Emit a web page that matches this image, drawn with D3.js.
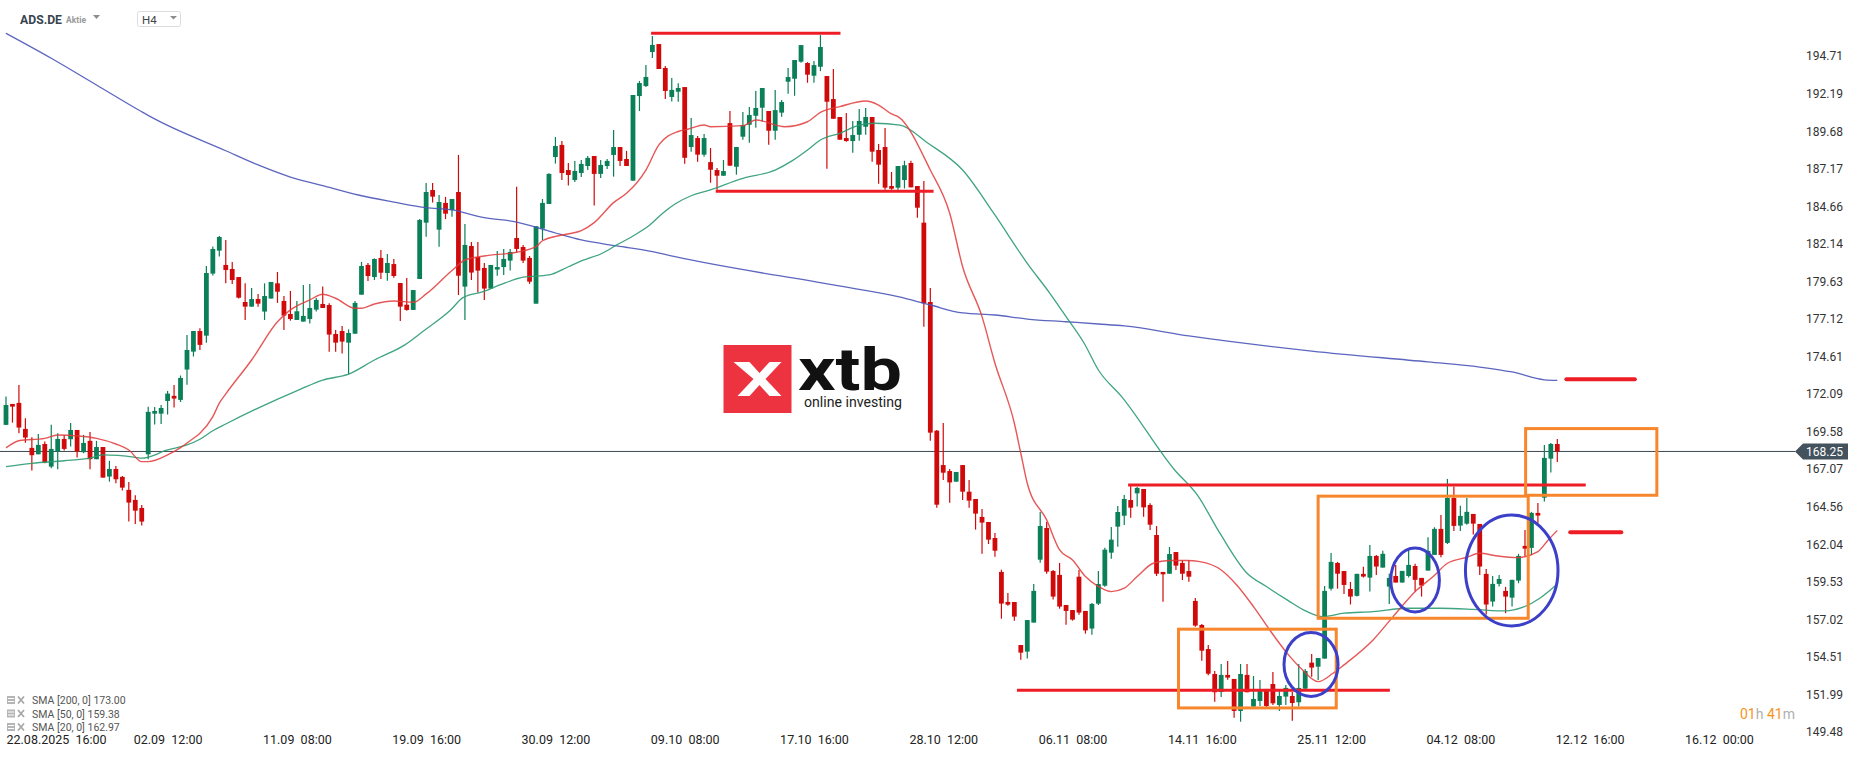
<!DOCTYPE html>
<html lang="de">
<head>
  <meta charset="utf-8" />
  <title>ADS.DE H4</title>
  <script src="https://cdnjs.cloudflare.com/ajax/libs/d3/7.8.5/d3.min.js"></script>
  <style>
    body { margin: 0; background: #fff; }
    svg { display: block; font-family: Roboto, "Noto Sans", Arial, sans-serif; }
  </style>
</head>
<body>
<svg id="chart" width="1866" height="761"></svg>
<script>
  // H4 candles, oldest first
  const opens = [
    170.03,171.43,171.50,169.76,168.49,168.06,168.75,167.24,168.24,169.09,
    169.07,169.69,168.20,168.96,167.73,168.55,166.57,167.08,166.55,165.68,
    165.01,164.47,168.06,170.78,170.78,171.63,171.97,171.70,173.73,174.93,
    176.31,176.00,180.15,181.69,180.73,180.46,179.92,178.25,177.94,178.45,
    177.61,178.48,179.50,178.32,177.45,177.05,176.94,177.11,177.74,178.12,
    178.05,176.11,176.31,175.53,176.13,178.74,180.73,179.92,181.20,180.19,
    180.79,179.52,178.07,177.72,179.79,183.56,185.74,183.09,184.88,184.41,
    185.61,179.28,182.00,181.26,180.53,179.15,180.42,180.59,181.02,182.53,
    181.93,181.20,178.14,183.16,184.81,187.95,188.76,187.08,186.41,186.88,
    187.35,188.02,186.82,187.35,188.09,188.62,187.82,186.37,192.03,192.70,
    194.98,195.51,193.91,191.97,192.32,192.63,188.62,189.22,188.11,187.61,
    187.08,186.70,190.22,187.30,189.31,190.11,190.71,191.25,191.03,189.71,
    190.92,192.99,193.19,194.33,194.24,193.39,193.99,193.37,191.83,190.63,
    189.22,189.02,189.44,189.98,190.63,188.42,188.62,186.01,185.90,186.41,
    187.55,186.01,183.56,178.25,169.64,167.34,166.94,166.23,167.34,165.56,
    165.07,163.87,163.53,162.46,160.19,158.18,158.18,155.30,154.86,156.80,
    161.01,163.13,160.25,159.99,157.98,157.64,159.87,157.58,156.40,158.07,
    159.27,161.48,163.22,163.95,165.00,165.45,165.74,164.67,162.66,160.19,
    160.07,161.52,160.79,160.25,158.25,156.64,155.03,153.36,152.16,153.30,
    153.03,150.89,153.30,151.18,151.56,152.36,152.69,151.29,151.85,151.89,
    151.47,152.38,154.12,153.85,154.39,159.07,160.79,160.25,159.05,158.59,
    160.06,159.81,161.26,160.48,159.21,159.92,159.48,159.92,160.59,159.79,
    160.28,161.33,163.07,162.13,165.14,163.29,163.42,164.07,163.40,160.06,
    158.21,159.39,158.92,158.47,159.61,161.93,161.80,164.14,165.16,167.77,168.75
  ];
  const highs = [
    171.92,171.43,172.70,170.47,169.20,169.42,168.91,170.03,169.47,169.36,
    170.16,169.69,169.36,169.56,168.96,168.55,167.62,167.28,166.61,166.21,
    165.32,164.67,171.25,171.23,171.36,172.30,172.70,173.33,176.05,176.31,
    176.49,180.66,181.96,182.67,182.40,180.93,179.92,179.50,179.19,178.79,
    179.50,179.59,180.26,178.65,178.99,178.32,179.39,179.46,178.52,179.28,
    178.16,176.38,176.65,176.42,178.32,180.93,180.86,181.17,181.73,181.46,
    181.13,179.52,179.86,179.05,183.80,186.21,186.21,185.41,185.28,185.14,
    188.09,183.47,182.27,182.27,180.86,180.73,181.67,181.80,181.80,185.97,
    182.07,181.33,183.32,185.14,186.86,189.29,189.02,187.55,187.69,187.75,
    188.02,188.02,187.75,187.82,189.76,188.62,188.36,192.10,193.04,194.11,
    196.05,195.51,194.04,193.24,192.88,192.63,190.56,189.35,189.49,188.55,
    187.21,187.75,191.03,188.62,190.96,191.29,192.36,192.57,191.03,192.43,
    191.76,193.90,194.44,195.44,194.30,194.37,196.11,193.37,193.84,190.63,
    190.89,190.36,191.16,191.23,190.63,188.82,189.89,186.95,187.35,187.70,
    187.70,186.01,186.34,179.19,169.69,170.15,167.08,166.88,167.34,166.34,
    165.07,164.40,163.53,162.80,160.34,158.78,158.18,155.30,156.97,159.38,
    164.20,163.53,160.32,160.79,157.98,157.64,160.32,157.58,158.11,160.25,
    161.81,163.20,164.60,165.34,165.94,165.87,165.74,164.78,163.26,160.19,
    161.86,161.52,160.99,160.99,158.45,156.71,155.30,153.56,154.03,154.23,
    153.03,154.03,154.03,153.23,152.96,152.36,153.50,152.29,152.63,152.16,
    154.03,153.70,154.70,154.43,159.25,161.46,160.86,160.25,159.52,160.06,
    160.53,162.00,161.33,161.60,160.06,160.66,160.26,161.66,160.73,159.79,
    162.51,163.18,164.00,166.41,165.90,164.61,165.14,164.07,163.40,160.39,
    159.92,159.99,159.19,159.66,161.40,163.00,164.21,164.81,168.69,168.82,169.09
  ];
  const lows = [
    170.03,170.18,169.47,168.84,166.97,168.06,167.46,167.13,167.06,168.31,
    168.58,167.84,168.13,167.06,167.73,166.50,166.23,166.12,165.63,163.56,
    163.40,163.29,167.73,170.05,170.09,170.72,171.19,171.56,172.72,174.60,
    175.04,175.53,180.02,181.29,179.50,179.46,178.48,177.05,177.94,177.94,
    177.05,178.48,178.19,176.38,177.00,177.05,176.94,176.82,177.61,177.85,
    174.93,174.93,174.80,173.41,176.13,178.74,179.66,179.72,179.79,179.68,
    179.88,176.98,177.67,177.72,179.79,182.62,184.90,181.95,183.80,183.96,
    178.72,177.05,179.72,178.88,178.39,179.15,180.01,180.06,180.35,181.55,
    180.86,179.46,178.14,182.40,184.81,187.51,186.41,186.04,186.28,186.62,
    187.08,184.70,186.55,187.15,186.64,187.35,187.35,186.37,191.03,192.64,
    194.58,193.84,191.83,191.66,191.65,187.50,188.31,187.64,187.97,186.23,
    185.76,186.70,187.37,186.77,189.11,188.91,189.91,190.31,188.77,189.11,
    190.65,192.19,192.05,194.26,192.92,192.92,193.70,187.17,190.51,189.11,
    188.97,188.24,189.04,189.44,187.64,186.17,185.76,185.76,185.76,185.85,
    185.92,183.89,176.60,168.97,164.49,166.34,164.82,166.23,165.00,164.49,
    163.02,161.41,162.06,161.21,157.06,157.93,156.93,154.32,154.39,156.80,
    160.81,160.07,158.34,157.73,156.66,156.93,157.33,156.06,155.99,157.98,
    159.20,161.08,161.88,163.33,163.82,164.56,163.89,163.00,159.92,158.20,
    160.07,160.32,159.65,159.54,156.53,154.25,153.27,151.51,151.82,152.98,
    150.44,150.17,152.14,151.18,151.22,151.15,151.29,150.89,151.29,150.24,
    151.18,152.29,153.18,152.96,154.39,158.94,159.07,158.71,158.01,158.54,
    159.81,158.88,159.99,160.48,158.05,159.48,159.48,159.81,158.88,158.54,
    160.28,161.33,161.17,162.06,162.93,162.93,163.34,162.69,159.99,157.34,
    157.87,159.21,157.43,157.87,159.43,161.26,161.33,163.45,164.90,166.84,167.55
  ];
  const closes = [
    171.36,171.25,169.85,169.18,168.00,168.69,167.51,168.42,169.09,168.42,
    169.69,168.24,168.82,167.73,168.55,166.50,167.08,166.39,165.83,164.83,
    164.29,163.56,170.90,170.96,171.16,172.12,171.79,173.17,175.04,176.31,
    175.38,180.19,181.80,182.60,180.39,179.72,178.54,177.94,178.45,178.14,
    178.65,179.59,178.94,177.34,177.11,177.63,177.32,177.85,178.39,177.85,
    176.07,175.53,175.60,176.18,178.19,180.66,179.99,181.13,180.21,180.86,
    179.99,177.94,177.72,179.05,183.74,185.61,185.30,184.94,184.16,185.14,
    180.01,182.07,180.22,180.35,179.15,180.73,180.59,181.13,181.60,181.80,
    181.02,179.61,183.32,184.88,186.82,188.69,186.88,186.75,187.02,187.49,
    187.89,186.82,187.42,187.69,188.62,187.69,187.35,192.10,192.90,193.31,
    195.45,193.84,192.37,192.44,192.57,187.90,189.42,188.11,189.22,187.10,
    186.70,187.01,187.37,188.62,190.09,190.76,191.23,192.57,189.71,191.09,
    191.63,193.30,194.44,195.44,193.46,194.10,195.31,191.65,190.51,189.11,
    189.02,189.42,190.36,190.63,188.31,187.44,185.90,185.83,187.35,187.40,
    185.92,184.56,178.16,169.51,164.69,166.83,166.18,166.88,165.56,164.96,
    164.09,163.49,162.35,161.61,158.07,158.00,157.20,154.79,156.97,158.92,
    163.26,160.21,158.54,157.87,157.58,157.00,157.47,156.28,158.05,159.38,
    161.68,162.35,164.20,165.07,164.49,165.81,164.51,163.35,160.07,160.03,
    161.39,160.61,160.07,159.87,156.60,154.92,153.38,152.14,153.30,153.12,
    150.89,153.36,152.14,151.69,152.23,151.22,151.40,151.89,152.43,151.42,
    152.43,153.56,153.79,154.43,158.92,160.86,160.07,159.32,158.54,160.06,
    159.88,161.26,160.55,161.40,159.79,159.48,160.26,160.66,159.66,159.28,
    161.60,163.07,161.33,165.14,163.27,163.94,164.21,163.42,160.55,158.01,
    159.39,159.72,158.54,159.66,161.26,161.75,164.14,163.96,167.82,168.75,168.25
  ];

  // moving averages: [candle index, value]
  const sma200 = [
    [0,196.23],[7,194.56],[14,192.77],[21,190.98],[23,190.50],[34,188.37],[39,187.42],
    [44,186.61],[49,186.03],[54.5,185.41],[60,184.94],[65,184.56],[69,184.41],[74,183.89],
    [79,183.60],[84,183.00],[89,182.40],[94.5,182.00],[100,181.62],[103.5,181.28],
    [128,179.39],[138,178.61],[143,178.05],[148,177.52],[153,177.38],[158,177.11],
    [164,176.93],[169,176.78],[173,176.65],[183,175.98],[202,174.97],[220,174.24],
    [228,173.90],[233,173.57],[238,173.04],[240,173.00]
  ];
  const sma50 = [
    [0,167.23],[4,167.46],[9,167.63],[13,167.80],[15,168.02],[20,167.86],[21,167.80],
    [25,168.35],[28,168.69],[30,169.07],[32,169.64],[34,170.09],[45.5,172.41],[49,173.03],
    [53,173.42],[57,174.37],[61.7,175.38],[64.8,176.38],[68.7,177.68],[70.7,178.54],
    [73.8,178.94],[76.4,179.39],[80,179.91],[84,180.06],[87,180.61],[89,181.00],
    [92,181.46],[94.5,182.07],[97,182.67],[99.6,183.40],[101.6,184.19],[103.5,184.81],
    [106,185.36],[108.6,185.70],[114,186.53],[119,187.08],[121.6,187.69],[124,188.42],
    [126,189.09],[129,189.54],[132,190.09],[134.4,190.21],[138.3,190.09],[142.6,188.89],
    [148,187.08],[152.8,184.19],[158,180.84],[161.5,178.83],[164,177.27],[166.8,175.49],
    [169,173.70],[172.6,171.92],[180.8,167.01],[184.3,165.34],[187.8,162.78],[192,160.10],
    [195,159.21],[198.2,158.32],[201.3,157.53],[203.7,157.20],[207,157.43],[211.5,157.53],
    [216.7,157.76],[221.8,157.76],[227,157.69],[232,157.58],[234.7,157.83],[237.3,158.43],
    [240,159.38]
  ];
  const sma20 = [
    [0,168.49],[2,168.97],[6,169.13],[8,169.35],[11,169.29],[14,169.13],[17,168.75],
    [19,168.35],[21,167.57],[22,167.57],[25,168.02],[27,168.51],[29,169.13],[30,169.47],
    [32,170.58],[33,171.48],[34,172.10],[38,174.37],[42,176.93],[44,177.72],[47,178.39],
    [49,178.77],[51,178.50],[54,177.83],[55,177.83],[57,178.12],[60,178.32],[63,178.23],
    [65,178.79],[69,180.36],[71,181.06],[74,181.33],[79,181.58],[82,181.95],[83,182.35],
    [86,182.73],[89,183.02],[91,183.56],[94,184.90],[96,185.52],[99,187.08],[101,188.76],
    [104,189.66],[105.5,189.81],[108,190.09],[109,189.98],[114,190.05],[116,190.43],
    [120.5,189.98],[124,190.31],[126,190.94],[129,191.32],[133,191.70],[135,191.43],
    [137,190.83],[138,190.65],[143,187.08],[146,184.19],[148,180.61],[151,177.27],
    [153,174.15],[156,170.14],[157,168.13],[158,166.12],[161,163.67],[163,161.66],
    [165,160.99],[167,159.88],[169,159.21],[171,158.87],[173,159.10],[175,159.88],
    [177.5,160.77],[180,160.95],[182.7,160.95],[184.7,160.88],[188,160.32],[190.4,159.32],
    [193,157.87],[195.5,156.31],[198,154.86],[200.6,153.63],[203,152.85],[205.3,153.41],
    [207,153.97],[211.5,155.64],[214.6,157.20],[218.3,158.99],[220.8,159.88],[223,160.77],
    [226,161.17],[228,161.44],[230.7,161.26],[233.8,161.15],[237,161.55],[238.5,162.28],
    [240,162.97]
  ];

  const lastPrice = 168.25;
  const yTicks = [194.71,192.19,189.68,187.17,184.66,182.14,179.63,177.12,174.61,172.09,
                  169.58,167.07,164.56,162.04,159.53,157.02,154.51,151.99,149.48];
  const xTickIdx = [5,25,45,65,85,105,125,145,165,185,205,225,245,265];
  const xTickLabels = ["22.08.2025  16:00","02.09  12:00","11.09  08:00","19.09  16:00",
    "30.09  12:00","09.10  08:00","17.10  16:00","28.10  12:00","06.11  08:00",
    "14.11  16:00","25.11  12:00","04.12  08:00","12.12  16:00","16.12  00:00"];
  const legendLines = ["SMA [200, 0] 173.00","SMA [50, 0] 159.38","SMA [20, 0] 162.97"];

  // drawn annotations: [from index, to index, price]
  const levels = [[99.8,129.1,196.23],[109.8,143.5,185.66],[173.6,244.4,166.01],[156.4,214.1,152.28]];
  const targets = [[241.4,252,173.08],[242,249.9,162.85]];
  // [from index, to index, top price, bottom price]
  const boxes = [[181.4,205.8,156.36,151.09],[203,235.5,165.26,157.09],[235.1,255.4,169.78,165.32]];
  // [centre index, centre price, radius in candles, radius in price]
  const rings = [[201.9,154.00,4.18,2.14],[218,159.65,3.76,2.14],[232.95,160.29,7.16,3.71]];

  const candles = opens.map((o, i) => ({ i: i, o: o, h: highs[i], l: lows[i], c: closes[i] }));

  const svg = d3.select("#chart");
  svg.append("rect").attr("width", 1866).attr("height", 761).attr("fill", "#fff");

  const x = d3.scaleLinear().domain([0, 240]).range([6, 1557.3]);
  const y = d3.scaleLinear().domain([149.48, 194.71]).range([732, 56]);
  const step = x(1) - x(0);
  const bw = step * 0.74;

  // header
  svg.append("text").attr("x", 20).attr("y", 24).attr("font-size", 13).attr("font-weight", 700)
    .attr("fill", "#37444e").attr("textLength", 42).attr("lengthAdjust", "spacingAndGlyphs").text("ADS.DE");
  svg.append("text").attr("x", 66).attr("y", 23).attr("font-size", 8.5).attr("font-weight", 700)
    .attr("fill", "#9a9a9a").text("Aktie");
  svg.append("path").attr("d", "M93,15 L100,15 L96.5,19 Z").attr("fill", "#8c8c8c");
  svg.append("rect").attr("x", 137.5).attr("y", 11.5).attr("width", 43).attr("height", 15)
    .attr("rx", 2).attr("fill", "#fff").attr("stroke", "#dcdcdc");
  svg.append("text").attr("x", 142).attr("y", 23.5).attr("font-size", 11.5).attr("fill", "#444").text("H4");
  svg.append("path").attr("d", "M170,16 L177,16 L173.5,19.5 Z").attr("fill", "#8c8c8c");

  // last price line
  svg.append("line").attr("x1", 0).attr("x2", 1795).attr("y1", y(lastPrice)).attr("y2", y(lastPrice))
    .attr("stroke", "#3b4853").attr("stroke-width", 1);

  // candles
  const gc = svg.append("g");
  gc.selectAll("line.wick").data(candles).join("line").attr("class", "wick")
    .attr("x1", d => x(d.i)).attr("x2", d => x(d.i))
    .attr("y1", d => y(d.h)).attr("y2", d => y(d.l))
    .attr("stroke", d => d.c >= d.o ? "#0a7f58" : "#d00a0a").attr("stroke-width", 1.2);
  gc.selectAll("rect.body").data(candles).join("rect").attr("class", "body")
    .attr("x", d => x(d.i) - bw / 2).attr("width", bw)
    .attr("y", d => y(Math.max(d.o, d.c)))
    .attr("height", d => Math.max(1.2, Math.abs(y(d.o) - y(d.c))))
    .attr("fill", d => d.c >= d.o ? "#0a7f58" : "#d00a0a");

  // moving averages
  const line = d3.line().x(d => x(d[0])).y(d => y(d[1])).curve(d3.curveMonotoneX);
  svg.append("path").datum(sma200).attr("d", line).attr("fill", "none")
    .attr("stroke", "#4a55b8").attr("stroke-width", 1.3).attr("opacity", 0.9);
  svg.append("path").datum(sma50).attr("d", line).attr("fill", "none")
    .attr("stroke", "#2a9a72").attr("stroke-width", 1.3).attr("opacity", 0.9);
  svg.append("path").datum(sma20).attr("d", line).attr("fill", "none")
    .attr("stroke", "#e23a3a").attr("stroke-width", 1.4).attr("opacity", 0.85);

  // annotations
  svg.selectAll("line.level").data(levels).join("line").attr("class", "level")
    .attr("x1", d => x(d[0])).attr("x2", d => x(d[1]))
    .attr("y1", d => y(d[2])).attr("y2", d => y(d[2]))
    .attr("stroke", "#ee1c25").attr("stroke-width", 3);
  svg.selectAll("line.target").data(targets).join("line").attr("class", "target")
    .attr("x1", d => x(d[0])).attr("x2", d => x(d[1]))
    .attr("y1", d => y(d[2])).attr("y2", d => y(d[2]))
    .attr("stroke", "#ee1c25").attr("stroke-width", 4).attr("stroke-linecap", "round");
  svg.selectAll("rect.box").data(boxes).join("rect").attr("class", "box")
    .attr("x", d => x(d[0])).attr("width", d => x(d[1]) - x(d[0]))
    .attr("y", d => y(d[2])).attr("height", d => y(d[3]) - y(d[2]))
    .attr("fill", "none").attr("stroke", "#f7862c").attr("stroke-width", 3);
  svg.selectAll("ellipse.ring").data(rings).join("ellipse").attr("class", "ring")
    .attr("cx", d => x(d[0])).attr("cy", d => y(d[1]))
    .attr("rx", d => x(d[0] + d[2]) - x(d[0])).attr("ry", d => y(d[1] - d[3]) - y(d[1]))
    .attr("fill", "none").attr("stroke", "#3c40c8").attr("stroke-width", 3);

  // price axis
  const ya = svg.append("g").attr("transform", "translate(1800,0)")
    .call(d3.axisRight(y).tickValues(yTicks).tickSize(0).tickPadding(6).tickFormat(d3.format(".2f")));
  ya.select(".domain").remove();
  ya.selectAll("text").attr("font-size", 12).attr("fill", "#333").attr("font-family", "Roboto, Arial, sans-serif");

  // last price tag
  const py = y(lastPrice);
  svg.append("path")
    .attr("d", `M1795,${py} L1803,${py - 8} L1848,${py - 8} L1848,${py + 8} L1803,${py + 8} Z`)
    .attr("fill", "#44525d");
  svg.append("text").attr("x", 1806).attr("y", py + 4.5).attr("font-size", 12).attr("fill", "#fff")
    .text(lastPrice.toFixed(2));

  // time axis
  const xa = svg.append("g").attr("transform", "translate(0,732)")
    .call(d3.axisBottom(x).tickValues(xTickIdx).tickSize(0).tickPadding(3)
      .tickFormat((d, i) => xTickLabels[i]));
  xa.select(".domain").remove();
  xa.selectAll("text").attr("font-size", 12.5).attr("fill", "#222").style("white-space", "pre")
    .attr("font-family", "Roboto, Arial, sans-serif");
  xa.select(".tick text").attr("text-anchor", "start").attr("x", 6 - x(xTickIdx[0]));

  // legend
  const lg = svg.append("g");
  legendLines.forEach(function(t, k) {
    const ly = 700 + k * 13.5;
    lg.append("rect").attr("x", 7).attr("y", ly - 4).attr("width", 8).attr("height", 8).attr("fill", "#b5b5b5");
    lg.append("path").attr("d", `M8,${ly - 1.5} H14 M8,${ly + 1.5} H14`).attr("stroke", "#fff").attr("stroke-width", 1);
    lg.append("path").attr("d", `M18,${ly - 3.5} L24,${ly + 3.5} M24,${ly - 3.5} L18,${ly + 3.5}`)
      .attr("stroke", "#a8a8a8").attr("stroke-width", 1.8);
    lg.append("text").attr("x", 32).attr("y", ly + 4).attr("font-size", 10.5).attr("fill", "#555").text(t);
  });

  // countdown
  const cd = svg.append("text").attr("x", 1740).attr("y", 719).attr("font-size", 14);
  cd.append("tspan").attr("fill", "#f7941d").text("01");
  cd.append("tspan").attr("fill", "#b0b0b0").text("h ");
  cd.append("tspan").attr("fill", "#f7941d").text("41");
  cd.append("tspan").attr("fill", "#b0b0b0").text("m");

  // xtb mark
  const logo = svg.append("g").attr("transform", "translate(723.5,345)");
  logo.append("rect").attr("width", 68).attr("height", 68).attr("fill", "#ee3340");
  logo.append("path").attr("d", "M10,17 L26,17 L36,28 L46,17 L58,17 L42,34 L58,51 L46,51 L36,40 L26,51 L14,51 L30,34 Z")
    .attr("fill", "#fff");
  svg.append("text").attr("x", 798).attr("y", 390).attr("font-size", 60).attr("font-weight", 700)
    .attr("fill", "#111").attr("textLength", 104).attr("lengthAdjust", "spacingAndGlyphs").text("xtb");
  svg.append("text").attr("x", 804).attr("y", 407).attr("font-size", 14.5).attr("fill", "#222")
    .attr("textLength", 98).attr("lengthAdjust", "spacingAndGlyphs").text("online investing");
</script>
</body>
</html>
